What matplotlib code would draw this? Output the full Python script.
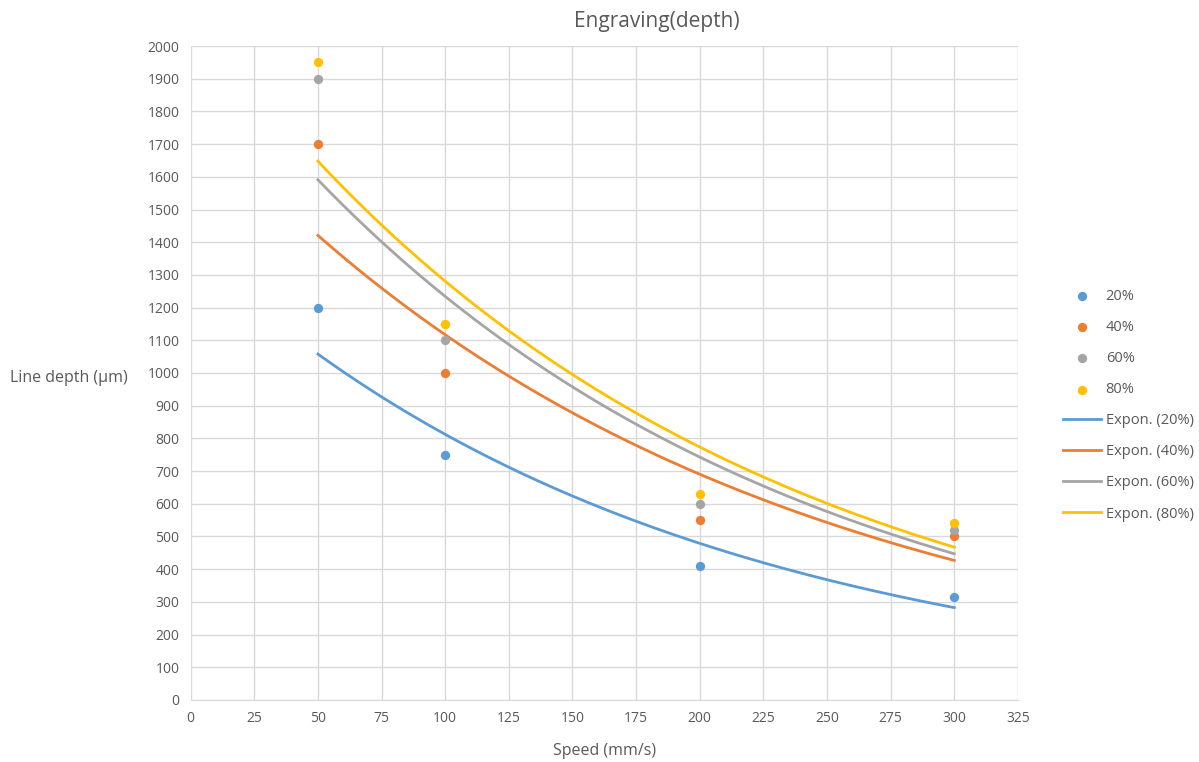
import matplotlib

matplotlib.use("Agg")
import matplotlib.pyplot as plt
import numpy as np

plt.rcParams["font.family"] = ["Open Sans", "DejaVu Sans"]

SPEED = np.array([50, 100, 200, 300])
SERIES = ["20%", "40%", "60%", "80%"]
DEPTH = {
    "20%": [1200, 750, 410, 315],
    "40%": [1700, 1000, 550, 500],
    "60%": [1900, 1100, 600, 520],
    "80%": [1950, 1150, 630, 540],
}
COLORS = {"20%": "#5b9bd5", "40%": "#ed7d31", "60%": "#a5a5a5", "80%": "#ffc000"}
TEXT = "#595959"

fig = plt.figure(figsize=(11.99, 7.62), dpi=100)
ax = fig.add_axes([0.159, 0.0814, 0.69, 0.8582])

pts, lines = [], []
for s in SERIES:
    y = np.array(DEPTH[s], dtype=float)
    pts.append(ax.scatter(SPEED, y, s=45, color=COLORS[s], zorder=3, label=s, linewidths=0))
    # Excel-style exponential trendline: least squares on ln(y)
    b, a = np.polyfit(SPEED, np.log(y), 1)
    xx = np.linspace(SPEED.min(), SPEED.max(), 200)
    (ln,) = ax.plot(xx, np.exp(a + b * xx), color=COLORS[s], lw=2, zorder=2,
                    label=f"Expon. ({s})")
    lines.append(ln)

ax.set_xlim(0, 325)
ax.set_ylim(0, 2000)
ax.set_xticks(np.arange(0, 326, 25))
ax.set_yticks(np.arange(0, 2001, 100))
ax.grid(color="#d9d9d9", lw=1)
ax.set_axisbelow(True)
for side in ["top", "right", "left"]:
    ax.spines[side].set_visible(False)
ax.spines["bottom"].set_color("#d9d9d9")
ax.tick_params(length=0, labelsize=10, colors=TEXT, pad=8)

ax.set_xlabel("Speed (mm/s)", fontsize=11.5, color=TEXT, labelpad=12)
fig.text(0.008, 0.504, "Line depth (µm)", fontsize=11.5, color=TEXT, va="center", ha="left")
fig.text(0.548, 0.972, "Engraving(depth)", fontsize=15, color=TEXT, ha="center", va="center")

fig.legend(handles=pts + lines, loc="center left", bbox_to_anchor=(0.876, 0.468),
           frameon=False, fontsize=10.5, labelcolor=TEXT, labelspacing=1.1,
           handlelength=2.6, handletextpad=0.3, scatterpoints=1)

fig.savefig("out.png", dpi=100)
